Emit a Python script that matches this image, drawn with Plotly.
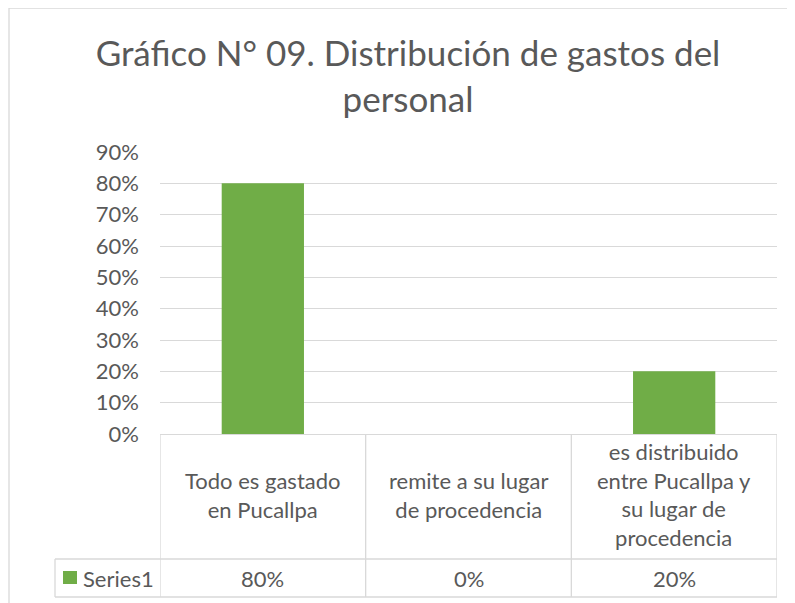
import plotly.graph_objects as go

categories = ["Todo es gastado en Pucallpa", "remite a su lugar de procedencia",
              "es distribuido entre Pucallpa y su lugar de procedencia"]
table_labels = ["Todo es gastado<br>en Pucallpa", "remite a su lugar<br>de procedencia",
                "es distribuido<br>entre Pucallpa y<br>su lugar de<br>procedencia"]
values = [0.80, 0.0, 0.20]
series_name = "Series1"
title_text = "Gráfico N° 09. Distribución de gastos del<br>personal"

FONT = "Lato, sans-serif"
GREY = "#595959"
LINE = "#d9d9d9"
GREEN = "#70ad47"

# the page body adds an 8px offset; reference pixel positions are shifted by it
OFF = 8
W, H = 795, 603
L, R, T, B = 160 - OFF, 795 - (777 - OFF), 152 - OFF, 603 - (434 - OFF)
pw, ph = W - L - R, H - T - B

def px_x(x):
    return (x - OFF - L) / pw

def px_y(y):
    return (H - B - (y - OFF)) / ph

fig = go.Figure()
fig.add_trace(go.Bar(x=list(range(len(categories))), y=values, name=series_name,
                     marker=dict(color=GREEN, line=dict(width=0)), width=0.4,
                     hovertext=categories))

shapes = []
shapes.append(dict(type="rect", xref="paper", yref="paper", x0=px_x(9), x1=px_x(830),
                   y0=px_y(650), y1=px_y(8), line=dict(color=LINE, width=1.3)))
row_sep = px_y(559)
bottom = px_y(597)
for i in range(len(categories) + 1):
    shapes.append(dict(type="line", xref="x", yref="paper", x0=i - 0.5, x1=i - 0.5,
                       y0=0, y1=bottom, line=dict(color=LINE, width=1.3)))
for yy in (row_sep, bottom):
    shapes.append(dict(type="line", xref="paper", yref="paper", x0=px_x(55), x1=1,
                       y0=yy, y1=yy, line=dict(color=LINE, width=1.3)))
shapes.append(dict(type="line", xref="paper", yref="paper", x0=px_x(55), x1=px_x(55),
                   y0=row_sep, y1=bottom, line=dict(color=LINE, width=1.3)))
shapes.append(dict(type="rect", xref="paper", yref="paper", x0=px_x(63), x1=px_x(77),
                   y0=px_y(584), y1=px_y(571), fillcolor=GREEN, line=dict(width=0)))

annotations = []
cell_mid = px_y((434 + 559) / 2 - 2)
val_mid = px_y(578)
for i, (lab, v) in enumerate(zip(table_labels, values)):
    annotations.append(dict(x=i, y=cell_mid, xref="x", yref="paper", text=lab,
                            showarrow=False, xanchor="center", yanchor="middle",
                            font=dict(family=FONT, size=22, color=GREY)))
    annotations.append(dict(x=i, y=val_mid, xref="x", yref="paper", text=f"{v:.0%}",
                            showarrow=False, xanchor="center", yanchor="middle",
                            font=dict(family=FONT, size=22, color=GREY)))
annotations.append(dict(x=px_x(81), y=val_mid, xref="paper", yref="paper", text=series_name,
                        showarrow=False, xanchor="left", yanchor="middle",
                        font=dict(family=FONT, size=22, color=GREY)))

fig.update_layout(
    width=W, height=H,
    margin=dict(l=L, r=R, t=T, b=B, autoexpand=False),
    paper_bgcolor="white", plot_bgcolor="white",
    showlegend=False,
    title=dict(text=title_text, x=(408 - OFF) / W, xanchor="center", y=1 - (66 - OFF) / H,
               yanchor="middle", font=dict(family=FONT, size=35, color=GREY)),
    xaxis=dict(range=[-0.5, 2.5], showticklabels=False, showgrid=False, zeroline=False,
               showline=False, ticks=""),
    yaxis=dict(range=[0, 0.9], dtick=0.1, tick0=0, tickformat=".0%", showgrid=True,
               gridcolor=LINE, gridwidth=1.3, zeroline=True, zerolinecolor=LINE,
               zerolinewidth=1.3, showline=False, ticks="", ticklabelstandoff=20,
               tickfont=dict(family=FONT, size=22, color=GREY)),
    shapes=shapes,
    annotations=annotations,
    font=dict(family=FONT, color=GREY),
)

fig.write_html("out.html")
